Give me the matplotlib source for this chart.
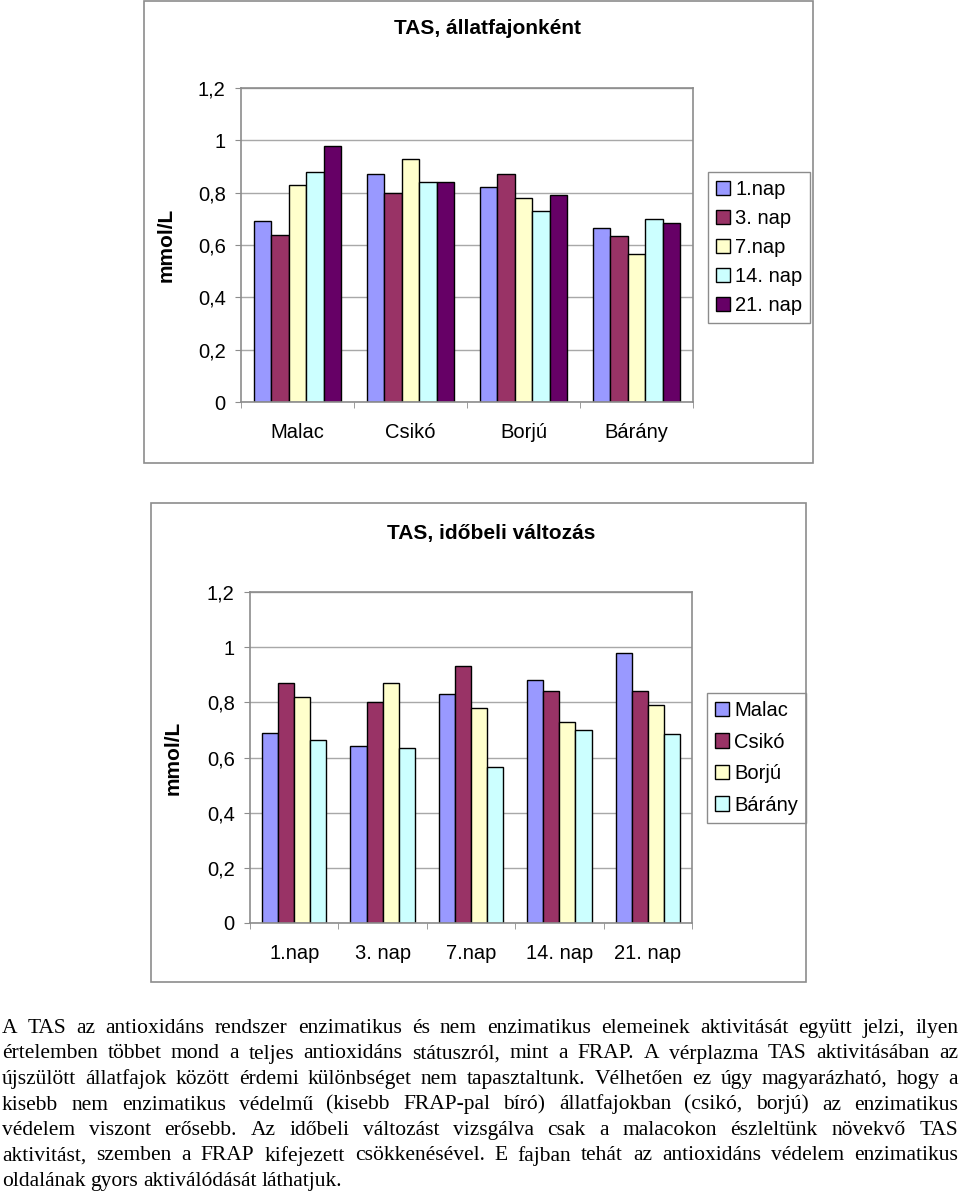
import matplotlib
matplotlib.use("Agg")
import matplotlib.pyplot as plt
import numpy as np
from matplotlib.patches import Rectangle
from matplotlib.ticker import FuncFormatter

W, H = 960, 1191

# adatok (leolvasva az ábráról)
species = ["Malac", "Csikó", "Borjú", "Bárány"]
days = ["1.nap", "3. nap", "7.nap", "14. nap", "21. nap"]
nap1 = [0.69, 0.87, 0.82, 0.665]
nap3 = [0.64, 0.80, 0.87, 0.635]
nap7 = [0.83, 0.93, 0.78, 0.565]
nap14 = [0.88, 0.84, 0.73, 0.70]
nap21 = [0.98, 0.84, 0.79, 0.685]
yticks = [0, 0.2, 0.4, 0.6, 0.8, 1.0, 1.2]

day_colors = ["#9999FF", "#993366", "#FFFFCC", "#CCFFFF", "#660066"]
species_colors = ["#9999FF", "#993366", "#FFFFCC", "#CCFFFF"]

paragraph = [
    "A TAS az antioxidáns rendszer enzimatikus és nem enzimatikus elemeinek aktivitását együtt jelzi, ilyen",
    "értelemben többet mond a teljes antioxidáns státuszról, mint a FRAP. A vérplazma TAS aktivitásában az",
    "újszülött állatfajok között érdemi különbséget nem tapasztaltunk. Vélhetően ez úgy magyarázható, hogy a",
    "kisebb nem enzimatikus védelmű (kisebb FRAP-pal bíró) állatfajokban (csikó, borjú) az enzimatikus",
    "védelem viszont erősebb. Az időbeli változást vizsgálva csak a malacokon észleltünk növekvő TAS",
    "aktivitást, szemben a FRAP kifejezett csökkenésével. E fajban tehát az antioxidáns védelem enzimatikus",
    "oldalának gyors aktiválódását láthatjuk.",
]

plt.rcParams["font.family"] = ["Liberation Sans", "DejaVu Sans"]
GRAY = "#8c8c8c"
FS = 14.5

fig = plt.figure(figsize=(W / 100, H / 100), dpi=100)


def fx(px):
    return px / W


def fy(py):
    return 1 - py / H


def frame(x0, y0, x1, y1):
    fig.add_artist(Rectangle((fx(x0), fy(y1)), fx(x1 - x0), (y1 - y0) / H,
                             transform=fig.transFigure, fill=False,
                             ec=GRAY, lw=1.2))


def bar_chart(box, cats, labels, series, colors, title, title_y, ylabel_x, leg_xy, leg_sp):
    x0, y0, x1, y1 = box
    ax = fig.add_axes([fx(x0), fy(y1), fx(x1 - x0), (y1 - y0) / H])
    n = len(series)
    w = 1.0 / (n + 1.5)
    centers = np.arange(len(cats)) + 0.5
    for j, (vals, lab, col) in enumerate(zip(series, labels, colors)):
        ax.bar(centers + (j - (n - 1) / 2) * w, vals, w, color=col,
               edgecolor="black", linewidth=1, label=lab)
    ax.set_xlim(0, len(cats))
    ax.set_ylim(0, 1.2)
    ax.set_yticks(yticks)
    ax.yaxis.set_major_formatter(FuncFormatter(lambda v, p: f"{v:g}".replace(".", ",")))
    ax.set_xticks(centers)
    ax.set_xticklabels(cats, fontsize=FS)
    ax.set_xticks(np.arange(len(cats) + 1), minor=True)
    ax.tick_params(axis="x", which="major", length=0, pad=15)
    ax.tick_params(axis="x", which="minor", length=4, color=GRAY, direction="out")
    ax.tick_params(axis="y", length=4, color=GRAY, pad=7, labelsize=FS)
    ax.yaxis.grid(True, color="#a8a8a8", lw=1)
    ax.set_axisbelow(True)
    for s in ax.spines.values():
        s.set_color(GRAY)
        s.set_linewidth(1.2)
    ax.set_ylabel("mmol/L", fontsize=15, fontweight="bold")
    ax.yaxis.set_label_coords((ylabel_x - x0) / (x1 - x0), 0.5)
    fig.text(fx((x0 + x1) / 2 + 20), fy(title_y), title, ha="center", va="center",
             fontsize=15, fontweight="bold")
    leg = ax.legend(loc="upper left", bbox_to_anchor=(fx(leg_xy[0]), fy(leg_xy[1])),
                    bbox_transform=fig.transFigure, borderaxespad=0,
                    fontsize=FS, fancybox=False, framealpha=1, edgecolor=GRAY,
                    handlelength=0.7, handleheight=0.7, handletextpad=0.25,
                    labelspacing=leg_sp, borderpad=0.4)
    leg.get_frame().set_linewidth(1)
    return ax


# 1. ábra: állatfajonként
frame(144, 1, 813, 463)
bar_chart((241, 88, 693, 402), species, days, [nap1, nap3, nap7, nap14, nap21],
          day_colors, "TAS, állatfajonként", 28, 176, (708, 172), 0.5)

# 2. ábra: időbeli változás
frame(151, 503, 806, 982)
by_day = np.array([nap1, nap3, nap7, nap14, nap21])
bar_chart((250, 592, 692, 923), days, species, [by_day[:, k] for k in range(4)],
          species_colors, "TAS, időbeli változás", 533, 183, (707, 693), 0.62)

# sorkizárt bekezdés
renderer = fig.canvas.get_renderer()
left, right = 2, 958
base0, step = 1033, 25.5
for i, line in enumerate(paragraph):
    words = line.split(" ")
    texts = [fig.text(0, fy(base0 + i * step), wd, fontsize=15.5,
                      family="Liberation Serif", va="baseline", ha="left")
             for wd in words]
    widths = [t.get_window_extent(renderer).width for t in texts]
    if i < len(paragraph) - 1:
        gap = (right - left - sum(widths)) / (len(words) - 1)
    else:
        gap = 4.8
    x = left
    for t, wd in zip(texts, widths):
        t.set_x(fx(x))
        x += wd + gap

fig.savefig("out.png", dpi=100)
